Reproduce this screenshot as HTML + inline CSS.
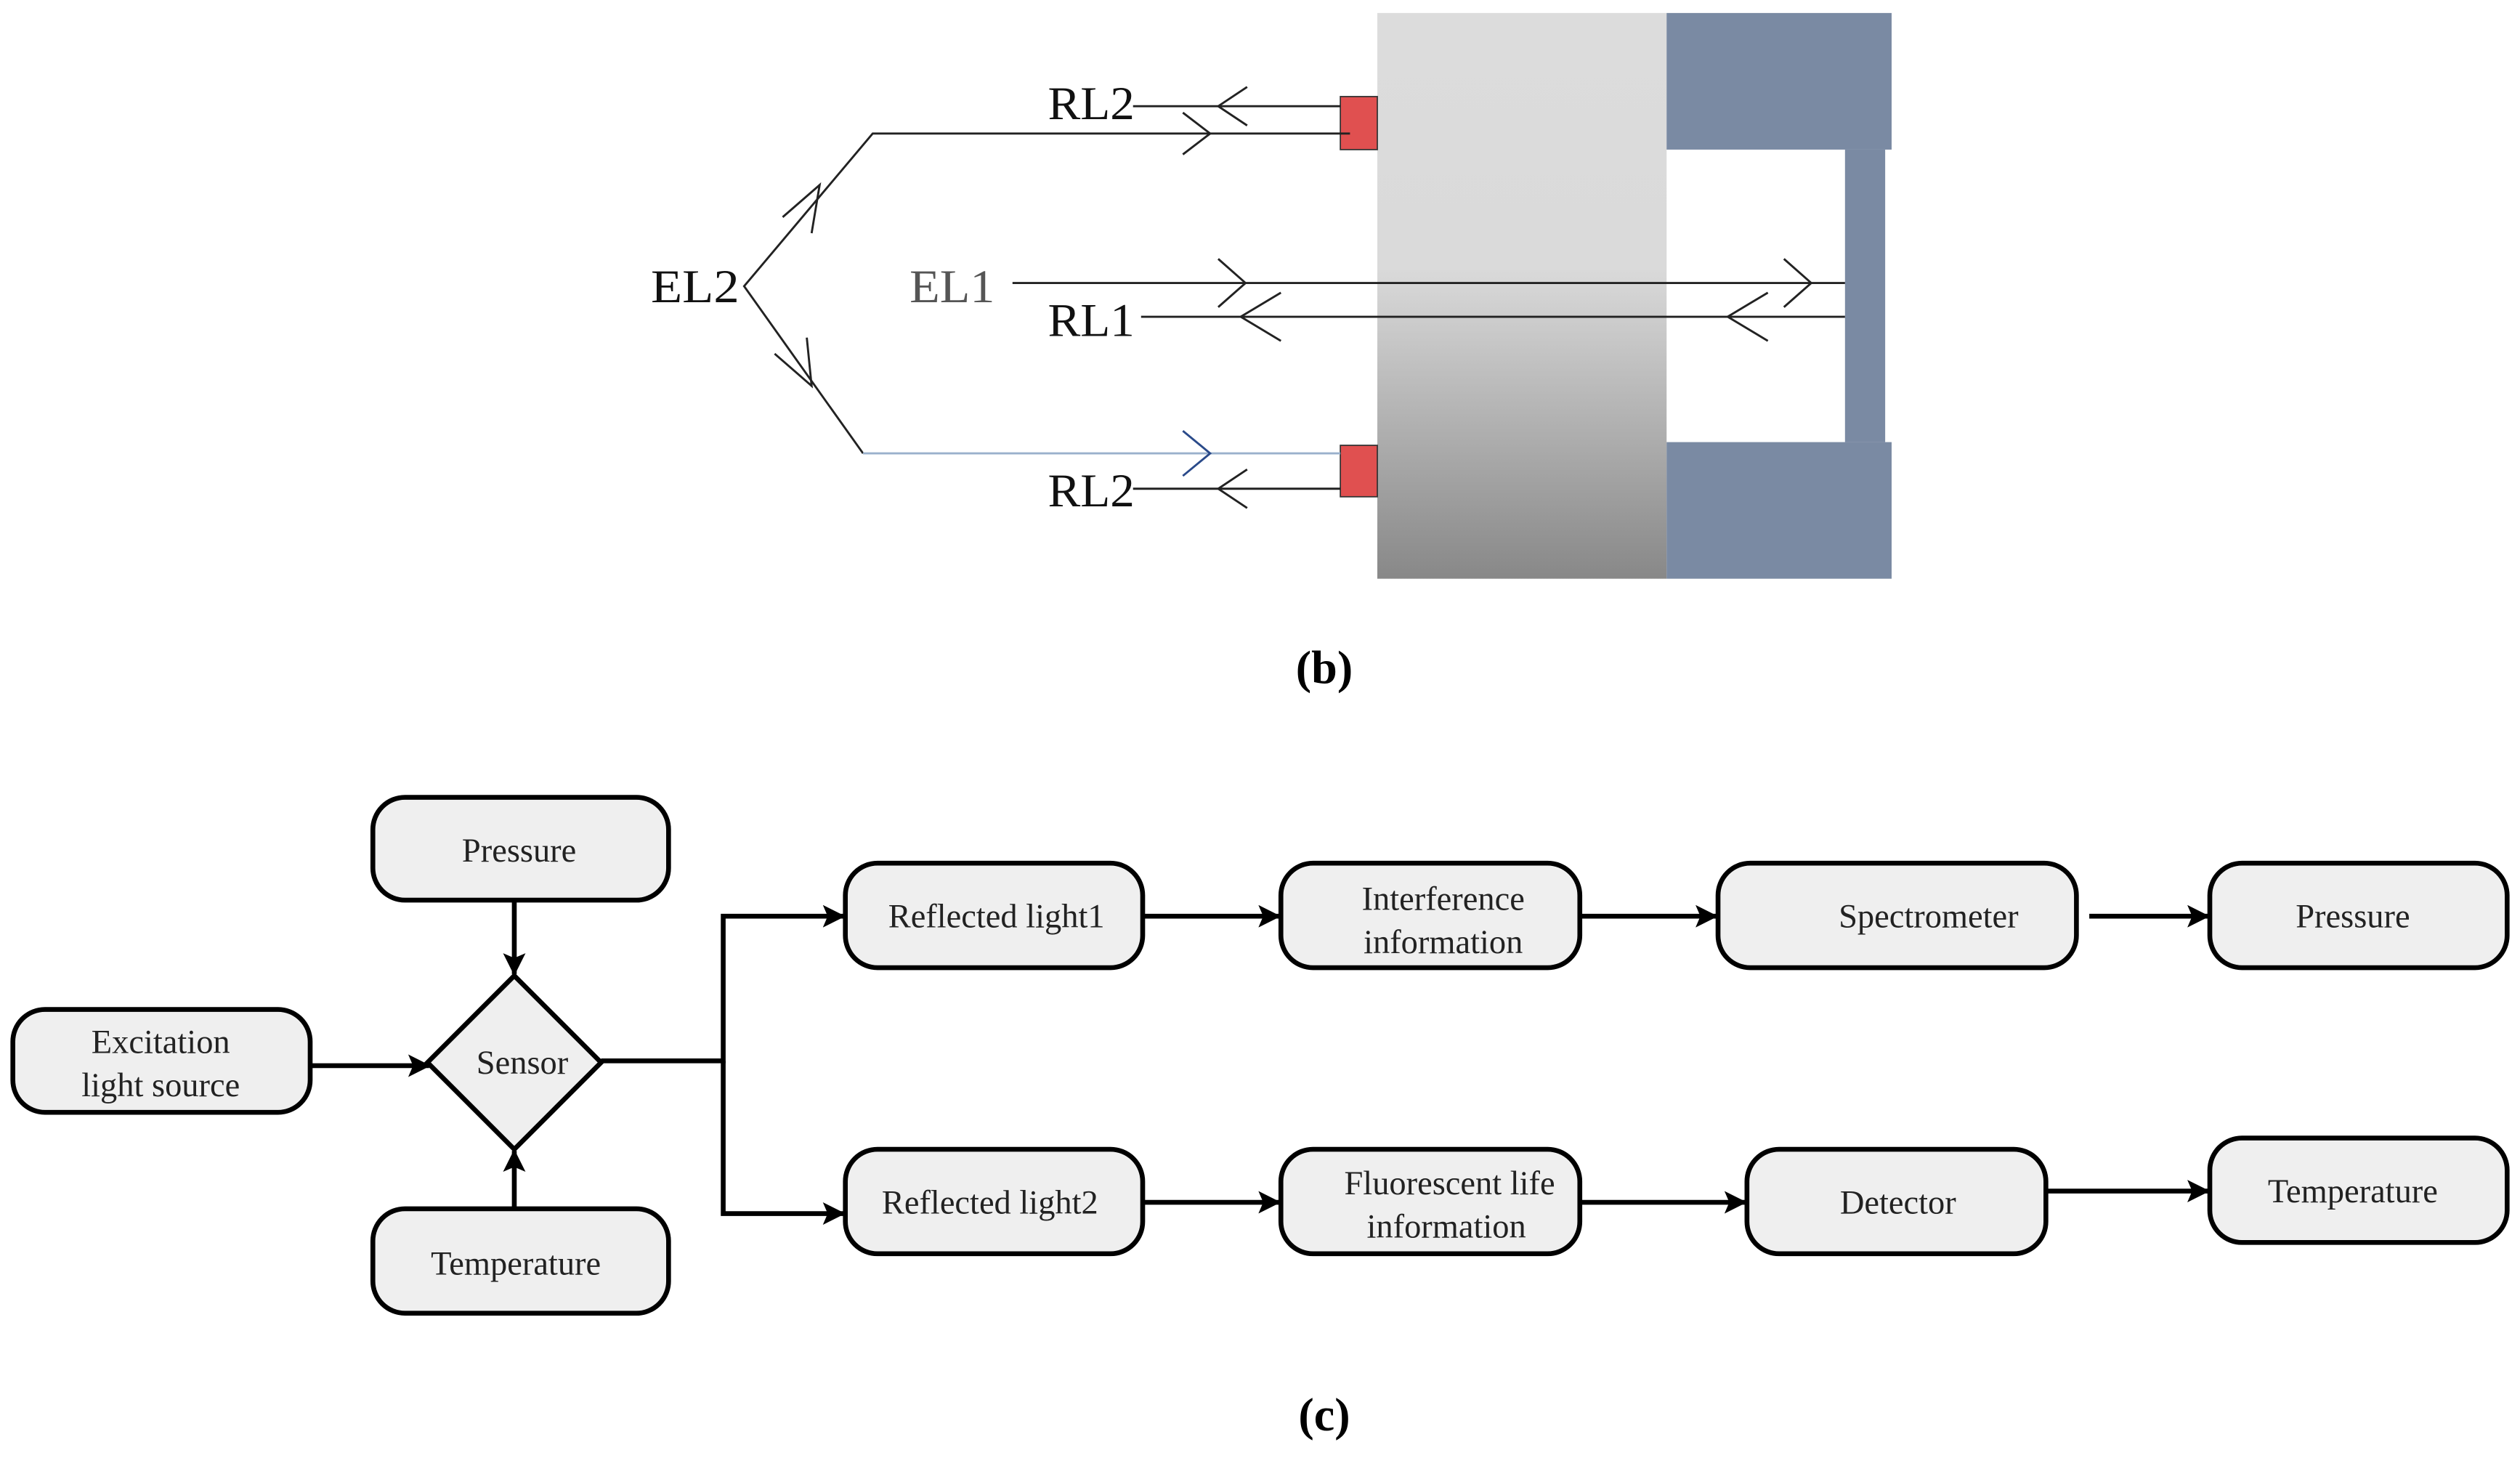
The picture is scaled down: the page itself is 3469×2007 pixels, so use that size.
<!DOCTYPE html>
<html><head><meta charset="utf-8"><style>
html,body{margin:0;padding:0;background:#fff;}
svg{display:block;}
</style></head><body>
<svg width="3469" height="2007" viewBox="0 0 1568 907" xmlns="http://www.w3.org/2000/svg" font-family="'Liberation Serif', 'DejaVu Serif', serif">
<defs>
<linearGradient id="g" x1="0" y1="0" x2="0" y2="1">
<stop offset="0" stop-color="#dcdcdc"/><stop offset="0.45" stop-color="#dadada"/><stop offset="1" stop-color="#888"/>
</linearGradient>
<marker id="a" markerWidth="14" markerHeight="14" refX="13" refY="7" orient="auto" markerUnits="userSpaceOnUse"><path d="M0,0 L14,7 L0,14 L3,7 Z" fill="#000"/></marker>
</defs>
<!-- (b) -->
<rect x="857" y="8" width="180" height="352" fill="url(#g)"/>
<rect x="1037" y="8" width="140" height="85" fill="#7a8aa3"/>
<rect x="1037" y="275" width="140" height="85" fill="#7a8aa3"/>
<rect x="1148" y="93" width="25" height="182" fill="#7a8aa3"/>
<rect x="834" y="60" width="23" height="33" fill="#e05050" stroke="#333" stroke-width="0.8"/>
<rect x="834" y="277" width="23" height="32" fill="#e05050" stroke="#333" stroke-width="0.8"/>
<g stroke="#222" stroke-width="1.3" fill="none">
<line x1="705" y1="66" x2="834" y2="66"/><path d="M776,54 L758,66 L776,78"/>
<polyline points="840,83 543,83 463,178 537,282"/><path d="M736,70 L753,83 L736,96"/>
<path d="M487,135 L510,115 L505,145"/><path d="M482,220 L505,240 L502,210"/>
<line x1="630" y1="176" x2="1148" y2="176"/><path d="M758,161 L775,176 L758,191"/><path d="M1110,161 L1127,176 L1110,191"/>
<line x1="710" y1="197" x2="1148" y2="197"/><path d="M797,182 L772,197 L797,212"/><path d="M1100,182 L1075,197 L1100,212"/>
<line x1="705" y1="304" x2="834" y2="304"/><path d="M776,292 L758,304 L776,316"/>
</g>
<line x1="537" y1="282" x2="834" y2="282" stroke="#9ab0cc" stroke-width="1.3"/>
<path d="M736,268 L753,282 L736,296" stroke="#2a4a8a" stroke-width="1.3" fill="none"/>
<g font-size="29" fill="#111" font-family="'Liberation Serif', serif">
<text x="652" y="74" textLength="54" lengthAdjust="spacingAndGlyphs">RL2</text>
<text x="405" y="188" textLength="55" lengthAdjust="spacingAndGlyphs">EL2</text>
<text x="566" y="188" fill="#555" textLength="53" lengthAdjust="spacingAndGlyphs">EL1</text>
<text x="652" y="209" textLength="54" lengthAdjust="spacingAndGlyphs">RL1</text>
<text x="652" y="315" textLength="54" lengthAdjust="spacingAndGlyphs">RL2</text>
</g>
<text x="824" y="425" font-size="29" font-weight="bold" text-anchor="middle" font-family="'Liberation Serif', serif">(b)</text>
<!-- (c) -->
<g stroke="#000" stroke-width="3" fill="#efefef">
<rect x="232" y="496" width="184" height="64" rx="20"/>
<rect x="8" y="628" width="185" height="64" rx="20"/>
<rect x="232" y="752" width="184" height="65" rx="20"/>
<path d="M320,607 L374,661 L320,715 L266,661 Z"/>
<rect x="526" y="537" width="185" height="65" rx="20"/>
<rect x="797" y="537" width="186" height="65" rx="20"/>
<rect x="1069" y="537" width="223" height="65" rx="20"/>
<rect x="1375" y="537" width="185" height="65" rx="20"/>
<rect x="526" y="715" width="185" height="65" rx="20"/>
<rect x="797" y="715" width="186" height="65" rx="20"/>
<rect x="1087" y="715" width="186" height="65" rx="20"/>
<rect x="1375" y="708" width="185" height="65" rx="20"/>
</g>
<g stroke="#000" stroke-width="3" fill="none" marker-end="url(#a)">
<line x1="320" y1="560" x2="320" y2="606"/>
<line x1="320" y1="752" x2="320" y2="716"/>
<line x1="193" y1="663" x2="267" y2="663"/>
<polyline points="374,660 450,660 450,570 525,570"/>
<polyline points="450,660 450,755 525,755"/>
<line x1="711" y1="570" x2="796" y2="570"/>
<line x1="983" y1="570" x2="1068" y2="570"/>
<line x1="1300" y1="570" x2="1374" y2="570"/>
<line x1="711" y1="748" x2="796" y2="748"/>
<line x1="983" y1="748" x2="1086" y2="748"/>
<line x1="1273" y1="741" x2="1374" y2="741"/>
</g>
<g font-size="21" fill="#222" text-anchor="middle" font-family="'Liberation Serif', serif">
<text x="323" y="536">Pressure</text>
<text x="100" y="655">Excitation</text>
<text x="100" y="682">light source</text>
<text x="325" y="668">Sensor</text>
<text x="321" y="793">Temperature</text>
<text x="620" y="577">Reflected light1</text>
<text x="898" y="566">Interference</text>
<text x="898" y="593">information</text>
<text x="1200" y="577">Spectrometer</text>
<text x="1464" y="577">Pressure</text>
<text x="616" y="755">Reflected light2</text>
<text x="902" y="743">Fluorescent life</text>
<text x="900" y="770">information</text>
<text x="1181" y="755">Detector</text>
<text x="1464" y="748">Temperature</text>
</g>
<text x="824" y="890" font-size="29" font-weight="bold" text-anchor="middle" font-family="'Liberation Serif', serif">(c)</text>
</svg>
</body></html>
